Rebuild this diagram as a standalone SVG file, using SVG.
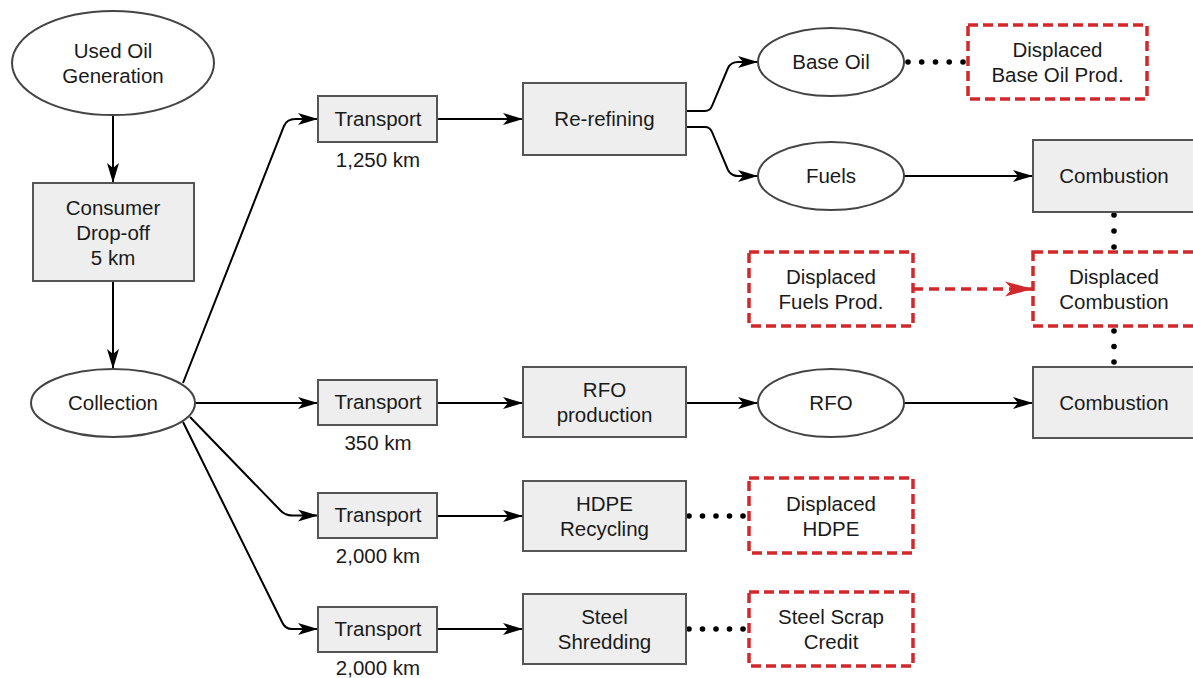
<svg xmlns="http://www.w3.org/2000/svg" width="1193" height="678" viewBox="0 0 1193 678">
<style>
text{font-family:"Liberation Sans",Arial,sans-serif;font-size:20.5px;fill:#1a1a1a;text-anchor:middle}
.box{fill:#eeeeee;stroke:#555;stroke-width:2}
.ell{fill:#fff;stroke:#444;stroke-width:2}
.red{fill:#fff;stroke:#d2282b;stroke-width:3.5;stroke-dasharray:10 5}
.edge{fill:none;stroke:#000;stroke-width:2;marker-end:url(#arr)}
.dot{fill:#000}
.redge{fill:none;stroke:#d2282b;stroke-width:3.5;stroke-dasharray:10 6;marker-end:url(#rarr)}
</style>
<defs>
<marker id="arr" markerUnits="userSpaceOnUse" markerWidth="22" markerHeight="14" refX="20" refY="7" orient="auto">
<path d="M0,1 L20,7 L0,13 L5,7 z" fill="#000"/>
</marker>
<marker id="rarr" markerUnits="userSpaceOnUse" markerWidth="30" markerHeight="18" refX="28" refY="9" orient="auto">
<path d="M0,1.5 L28,9 L0,16.5 L7,9 z" fill="#d2282b"/>
</marker>
</defs>
<rect width="1193" height="678" fill="#fff"/>
<g id="connectors">
<path class="edge" d="M113,115 L113,183"/>
<path class="edge" d="M113,281 L113,369"/>
<path class="edge" d="M183,383 L284,126 Q287,119 295,119 L318,119"/>
<path class="edge" d="M195,403 L318,403"/>
<path class="edge" d="M190,417 L280,510 Q285,515.5 292,515.5 L318,515.5"/>
<path class="edge" d="M183,422 L282,622 Q285,629 292,629 L318,629"/>
<path class="edge" d="M437,119 L523,119"/>
<path class="edge" d="M437,403 L523,403"/>
<path class="edge" d="M437,516 L523,516"/>
<path class="edge" d="M437,629 L523,629"/>
<path class="edge" d="M686,111 L705,111 Q710,111 712,106 L728,68 Q731,62 738,62 L758,62"/>
<path class="edge" d="M686,127 L705,127 Q710,127 712,132 L728,170 Q731,176 738,176 L758,176"/>
<path class="edge" d="M904,176 L1033,176"/>
<path class="edge" d="M686,403 L758,403"/>
<path class="edge" d="M904,403 L1033,403"/>
<g class="dot">
<circle cx="908" cy="62" r="2.8"/><circle cx="921.7" cy="62" r="2.8"/><circle cx="935.5" cy="62" r="2.8"/><circle cx="949.2" cy="62" r="2.8"/><circle cx="963" cy="62" r="2.8"/>
<circle cx="689" cy="516" r="2.8"/><circle cx="702.5" cy="516" r="2.8"/><circle cx="716" cy="516" r="2.8"/><circle cx="729.5" cy="516" r="2.8"/><circle cx="743" cy="516" r="2.8"/>
<circle cx="689" cy="629" r="2.8"/><circle cx="702.5" cy="629" r="2.8"/><circle cx="716" cy="629" r="2.8"/><circle cx="729.5" cy="629" r="2.8"/><circle cx="743" cy="629" r="2.8"/>
<circle cx="1114" cy="215" r="2.8"/><circle cx="1114" cy="231" r="2.8"/><circle cx="1114" cy="247" r="2.8"/>
<circle cx="1114" cy="331" r="2.8"/><circle cx="1114" cy="346.5" r="2.8"/><circle cx="1114" cy="362" r="2.8"/>
</g>
<path class="redge" d="M913,289 L1033,289"/>
</g>
<g id="used-oil-generation"><ellipse class="ell" cx="113" cy="63" rx="101" ry="52"/><text x="113" y="58">Used Oil</text><text x="113" y="83">Generation</text></g>
<g id="consumer-drop-off"><rect class="box" x="33" y="183" width="161" height="98"/><text x="113" y="215">Consumer</text><text x="113" y="240">Drop-off</text><text x="113" y="265">5 km</text></g>
<g id="collection"><ellipse class="ell" cx="113" cy="403" rx="82" ry="34"/><text x="113" y="410">Collection</text></g>
<g id="transport-1"><rect class="box" x="318" y="96" width="119" height="46"/><text x="378" y="126">Transport</text><text x="378" y="167">1,250 km</text></g>
<g id="transport-2"><rect class="box" x="318" y="380" width="119" height="45"/><text x="378" y="409">Transport</text><text x="378" y="450">350 km</text></g>
<g id="transport-3"><rect class="box" x="318" y="493" width="119" height="45"/><text x="378" y="522">Transport</text><text x="378" y="563">2,000 km</text></g>
<g id="transport-4"><rect class="box" x="318" y="607" width="119" height="45"/><text x="378" y="636">Transport</text><text x="378" y="675">2,000 km</text></g>
<g id="re-refining"><rect class="box" x="523" y="83" width="163" height="72"/><text x="604.5" y="126">Re-refining</text></g>
<g id="rfo-production"><rect class="box" x="523" y="367" width="163" height="70"/><text x="604.5" y="397">RFO</text><text x="604.5" y="422">production</text></g>
<g id="hdpe-recycling"><rect class="box" x="523" y="481" width="163" height="70"/><text x="604.5" y="511">HDPE</text><text x="604.5" y="536">Recycling</text></g>
<g id="steel-shredding"><rect class="box" x="523" y="594" width="163" height="70"/><text x="604.5" y="624">Steel</text><text x="604.5" y="649">Shredding</text></g>
<g id="base-oil"><ellipse class="ell" cx="831" cy="62" rx="73" ry="34"/><text x="831" y="69">Base Oil</text></g>
<g id="fuels"><ellipse class="ell" cx="831" cy="176" rx="73" ry="34"/><text x="831" y="183">Fuels</text></g>
<g id="rfo"><ellipse class="ell" cx="831" cy="403" rx="73" ry="34"/><text x="831" y="410">RFO</text></g>
<g id="displaced-base-oil-prod"><rect class="red" x="968" y="25" width="179" height="74"/><text x="1057.5" y="57">Displaced</text><text x="1057.5" y="82">Base Oil Prod.</text></g>
<g id="combustion-1"><rect class="box" x="1033" y="140" width="163" height="72"/><text x="1114" y="183">Combustion</text></g>
<g id="displaced-fuels-prod"><rect class="red" x="749" y="252" width="164" height="74"/><text x="831" y="284">Displaced</text><text x="831" y="309">Fuels Prod.</text></g>
<g id="displaced-combustion"><rect class="red" x="1033" y="252" width="163" height="74"/><text x="1114" y="284">Displaced</text><text x="1114" y="309">Combustion</text></g>
<g id="combustion-2"><rect class="box" x="1033" y="367" width="163" height="71"/><text x="1114" y="410">Combustion</text></g>
<g id="displaced-hdpe"><rect class="red" x="749" y="478" width="164" height="75"/><text x="831" y="511">Displaced</text><text x="831" y="536">HDPE</text></g>
<g id="steel-scrap-credit"><rect class="red" x="749" y="592" width="164" height="74"/><text x="831" y="624">Steel Scrap</text><text x="831" y="649">Credit</text></g>
</svg>
